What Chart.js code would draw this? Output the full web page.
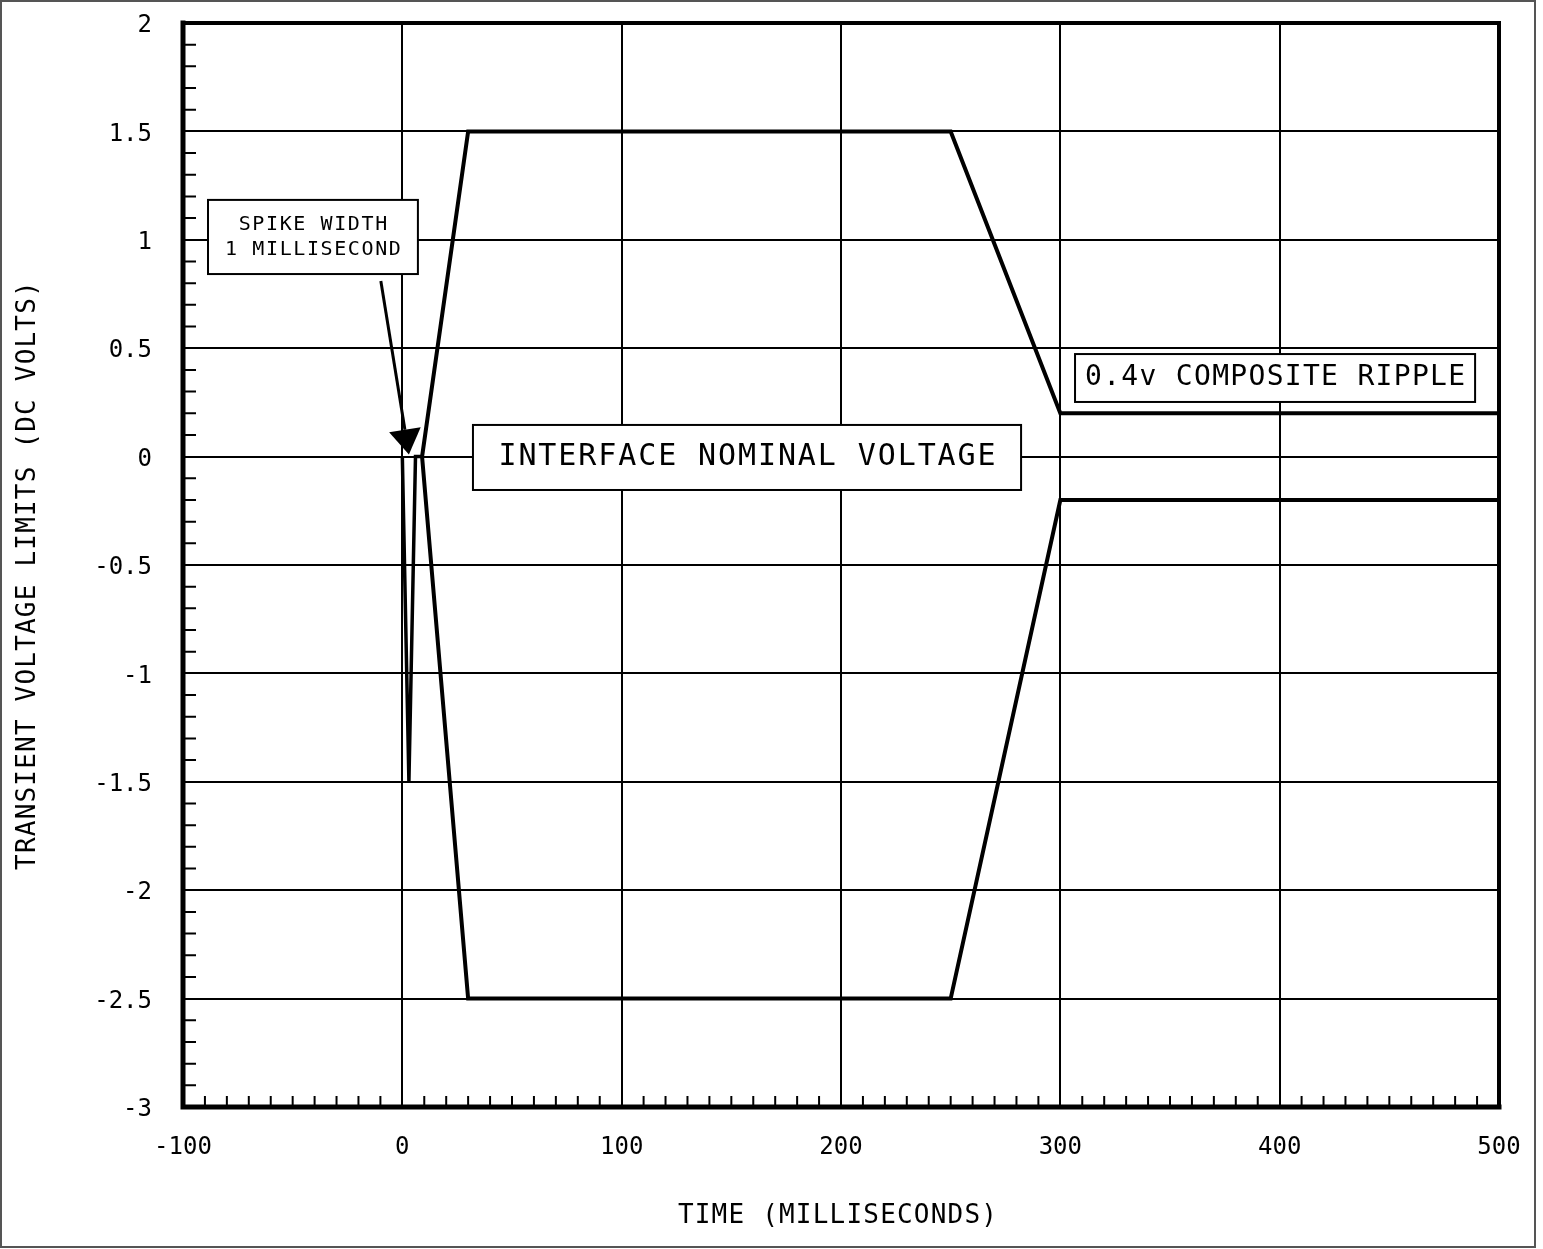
<!DOCTYPE html>
<html><head><meta charset="utf-8">
<script src="https://cdn.jsdelivr.net/npm/chart.js@4"></script>
<style>html,body{margin:0;padding:0;background:#fff;} #wrap{position:relative;width:1543px;height:1249px;}</style>
</head><body><div id="wrap"><canvas id="c" width="1543" height="1249"></canvas></div>
<script>
// ---- data ----
const xTickLabels = ['-100','0','100','200','300','400','500'];
const yTickLabels = ['-3','-2.5','-2','-1.5','-1','-0.5','0','0.5','1','1.5','2'];
const spikeTime  = [0, 3, 6, 9];
const spikeVolts = [0, -1.5, 0, 0];
const upperTime  = [9, 30, 250, 300, 500];
const upperVolts = [0, 1.5, 1.5, 0.2, 0.2];
const lowerTime  = [9, 30, 250, 300, 500];
const lowerVolts = [0, -2.5, -2.5, -0.2, -0.2];
const arrowTime  = [-9.8, 3];
const arrowVolts = [0.81, 0.01];
const noteTexts = [['SPIKE WIDTH','1 MILLISECOND'], ['INTERFACE NOMINAL VOLTAGE'], ['0.4v COMPOSITE RIPPLE']];
const xTitle = 'TIME (MILLISECONDS)';
const yTitle = 'TRANSIENT VOLTAGE LIMITS (DC VOLTS)';

const toPts = (xs, ys) => xs.map((x, i) => ({x, y: ys[i]}));
const FONT = '"DejaVu Sans Mono", monospace';

// annotation box placement (data coords) and styling
const noteBoxes = [
  {x0:-88.6, x1:7.1, y0:1.184, y1:0.842, size:20, spacing:1.6, lineGap:25},
  {x0:32.2, x1:282.1, y0:0.146, y1:-0.154, size:30, spacing:1.9, lineGap:0},
  {x0:306.7, x1:489.1, y0:0.473, y1:0.252, size:28, spacing:1.3, lineGap:0}
];

const deco = {
  id: 'deco',
  beforeDatasetsDraw(chart) {
    const {ctx, chartArea: a, scales: {x, y}} = chart;
    ctx.save();
    ctx.strokeStyle = '#000';
    ctx.lineWidth = 2;
    ctx.beginPath();
    for (let v = -100; v <= 500; v += 10) {
      if (v % 100 === 0) continue;
      const px = x.getPixelForValue(v);
      ctx.moveTo(px, a.bottom); ctx.lineTo(px, a.bottom - 11);
    }
    for (let k = -30; k <= 20; k++) {
      if (k % 5 === 0) continue;
      const py = y.getPixelForValue(k / 10);
      ctx.moveTo(a.left, py); ctx.lineTo(a.left + 13, py);
    }
    ctx.stroke();
    // frame
    ctx.lineCap = 'square';
    ctx.lineWidth = 4;
    ctx.beginPath();
    ctx.moveTo(a.left, a.top); ctx.lineTo(a.right, a.top); ctx.lineTo(a.right, a.bottom);
    ctx.stroke();
    ctx.lineWidth = 5;
    ctx.beginPath();
    ctx.moveTo(a.left, a.top); ctx.lineTo(a.left, a.bottom); ctx.lineTo(a.right, a.bottom);
    ctx.stroke();
    ctx.restore();
  },
  afterDraw(chart) {
    const {ctx, scales: {x, y}} = chart;
    ctx.save();
    // outer frame
    ctx.strokeStyle = '#555';
    ctx.lineWidth = 2;
    ctx.strokeRect(1, 1, 1534, 1246);
    // arrow
    const ax0 = x.getPixelForValue(arrowTime[0]), ay0 = y.getPixelForValue(arrowVolts[0]);
    const ax1 = x.getPixelForValue(arrowTime[1]), ay1 = y.getPixelForValue(arrowVolts[1]);
    const ang = Math.atan2(ay1 - ay0, ax1 - ax0);
    const hl = 25, hw = 16;
    const bx = ax1 - hl * Math.cos(ang), by = ay1 - hl * Math.sin(ang);
    ctx.strokeStyle = '#000'; ctx.fillStyle = '#000';
    ctx.lineWidth = 3;
    ctx.beginPath(); ctx.moveTo(ax0, ay0); ctx.lineTo(bx, by); ctx.stroke();
    ctx.beginPath();
    ctx.moveTo(ax1, ay1);
    ctx.lineTo(bx + hw * Math.sin(ang), by - hw * Math.cos(ang));
    ctx.lineTo(bx - hw * Math.sin(ang), by + hw * Math.cos(ang));
    ctx.closePath(); ctx.fill();
    // note boxes
    noteBoxes.forEach((b, i) => {
      const l = x.getPixelForValue(b.x0), r = x.getPixelForValue(b.x1);
      const t = y.getPixelForValue(b.y0), bt = y.getPixelForValue(b.y1);
      ctx.fillStyle = '#fff';
      ctx.fillRect(l, t, r - l, bt - t);
      ctx.strokeStyle = '#000'; ctx.lineWidth = 2;
      ctx.strokeRect(l, t, r - l, bt - t);
      ctx.fillStyle = '#000';
      ctx.font = b.size + 'px ' + FONT;
      ctx.letterSpacing = b.spacing + 'px';
      ctx.textAlign = 'center'; ctx.textBaseline = 'middle';
      const lines = noteTexts[i];
      const cy = (t + bt) / 2, cx = (l + r) / 2 + b.spacing / 2;
      lines.forEach((s, j) => {
        ctx.fillText(s, cx, cy + (j - (lines.length - 1) / 2) * b.lineGap);
      });
    });
    // axis titles
    ctx.fillStyle = '#000';
    ctx.font = '26px ' + FONT;
    ctx.letterSpacing = '1.2px';
    ctx.textAlign = 'center'; ctx.textBaseline = 'middle';
    ctx.fillText(xTitle, 838, 1216);
    ctx.translate(28, 575);
    ctx.rotate(-Math.PI / 2);
    ctx.fillText(yTitle, 0, 0);
    ctx.restore();
  }
};

const lineStyle = {borderColor:'#000', pointRadius:0, showLine:true, tension:0, borderJoinStyle:'miter', fill:false};

new Chart(document.getElementById('c'), {
  type: 'scatter',
  data: {
    datasets: [
      {...lineStyle, label:'spike', data: toPts(spikeTime, spikeVolts), borderWidth:3.5},
      {...lineStyle, label:'upper', data: toPts(upperTime, upperVolts), borderWidth:4},
      {...lineStyle, label:'lower', data: toPts(lowerTime, lowerVolts), borderWidth:4}
    ]
  },
  options: {
    responsive: false, animation: false, devicePixelRatio: 1,
    layout: {padding: {top: 23, right: 44, left: 0, bottom: 0}},
    plugins: {legend: {display: false}, tooltip: {enabled: false}},
    scales: {
      x: {
        type: 'linear', min: -100, max: 500,
        afterFit: s => { s.height = 142; s.paddingLeft = 0; s.paddingRight = 0; s.paddingTop = 0; s.paddingBottom = 0; },
        border: {display: false},
        grid: {color: '#000', lineWidth: 2, drawTicks: false},
        ticks: {stepSize: 100, padding: 26, color: '#000', font: {family: FONT, size: 24},
          maxRotation: 0, autoSkip: false, callback: (v, i) => xTickLabels[i]}
      },
      y: {
        type: 'linear', min: -3, max: 2,
        afterFit: s => { s.width = 183; s.paddingLeft = 0; s.paddingRight = 0; s.paddingTop = 0; s.paddingBottom = 0; },
        border: {display: false},
        grid: {color: '#000', lineWidth: 2, drawTicks: false},
        ticks: {stepSize: 0.5, padding: 31, labelOffset: 3, color: '#000', font: {family: FONT, size: 24},
          autoSkip: false, callback: (v, i) => yTickLabels[i]}
      }
    }
  },
  plugins: [deco]
});
</script>
</body></html>
